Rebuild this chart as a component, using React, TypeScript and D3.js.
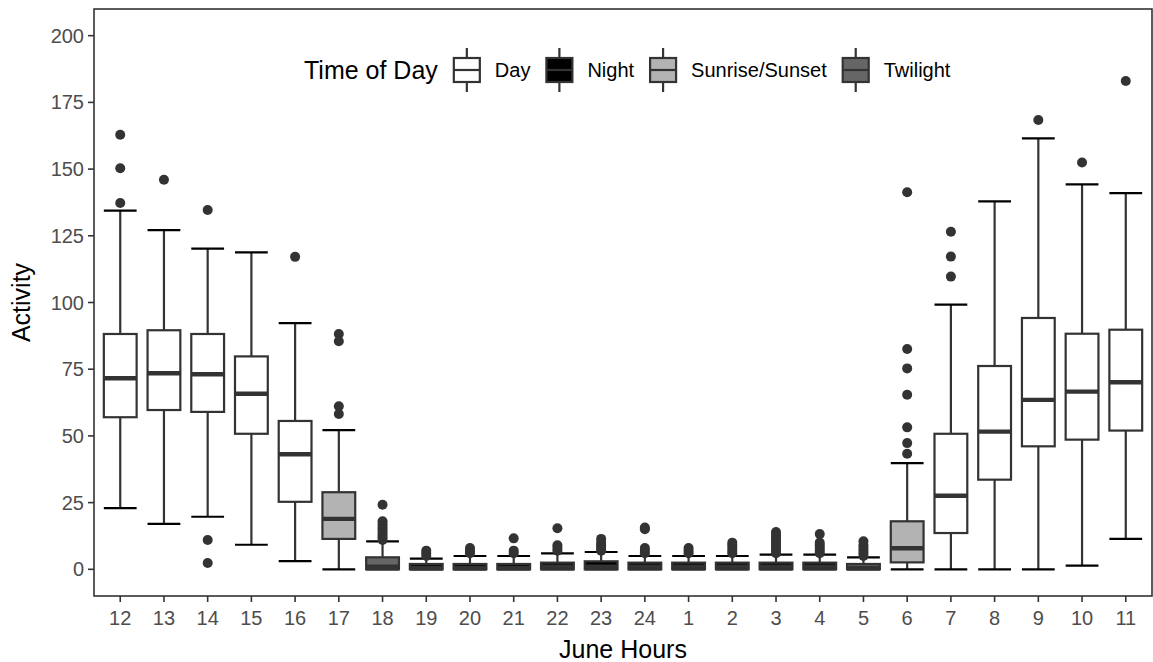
import React from "react";
import * as d3 from "d3";

const hours = ["12","13","14","15","16","17","18","19","20","21","22","23","24","1","2","3","4","5","6","7","8","9","10","11"];
const timeOfDay = [
  "Day","Day","Day","Day","Day","Sunrise/Sunset","Twilight",
  "Night","Night","Night","Night","Night","Night","Night","Night","Night","Night",
  "Twilight","Sunrise/Sunset","Day","Day","Day","Day","Day"
];
const lowerWhisker = [22.9,17,19.7,9.2,3.1,0,0, 0,0,0,0,0,0,0,0,0,0, 0,0,0,0,0,1.4,11.4];
const q1 =           [57,59.7,59,50.8,25.3,11.4,0, 0,0,0,0,0,0,0,0,0,0, 0,2.6,13.6,33.6,46.1,48.6,52];
const median =       [71.6,73.5,73.1,65.8,43.1,18.9,1, 0.5,0.5,0.5,1,1,1,1,1,1,1, 0.5,7.9,27.6,51.6,63.5,66.6,70.1];
const q3 =           [88.2,89.6,88.2,79.8,55.6,28.9,4.5, 2,2,2,2.5,3,2.5,2.5,2.5,2.5,2.5, 2,18,50.8,76.2,94.2,88.3,89.8];
const upperWhisker = [134.4,127.1,120.2,118.8,92.3,52.2,10.5, 4,5,5,6,6.5,5,5,5,5.5,5.5, 4.5,39.8,99.2,137.9,161.5,144.3,141];
const outliers = [
  [137.3,150.3,162.9],
  [146],
  [134.7,11,2.4],
  [],
  [117.1],
  [88.2,85.5,61.1,58.2],
  [11,12,13,14,15,16,17,18,24.2],
  [5,6,7],
  [6,7,8],
  [6,7,11.6],
  [7,8,9,15.4],
  [7,8,9,10,11.4],
  [6,7,8,15,15.7],
  [6,7,8],
  [6,7,8,9,10],
  [6,7,8,9,10,11,12,13,14],
  [6,7,8,9,10,13.2],
  [5,6,7,8,9,10.5],
  [43.3,47.3,53.2,65.4,75.3,82.6,141.3],
  [109.7,117.2,126.5],
  [],
  [168.4],
  [152.5],
  [183]
];
const legendLevels = ["Day","Night","Sunrise/Sunset","Twilight"];
const legendFills = ["#ffffff","#000000","#b3b3b3","#666666"];
const yTicks = [0,25,50,75,100,125,150,175,200];

const W = 1153, H = 662;
const panel = { left: 94, right: 1152, top: 9, bottom: 596 };
const FONT = "'Liberation Sans', Arial, Helvetica, sans-serif";
const DARK = "#333333";
const LW = 2.2;

function measure(text: string, size: number): number {
  const c = document.createElement("canvas").getContext("2d");
  if (!c) return text.length * size * 0.55;
  c.font = `${size}px ${FONT}`;
  return c.measureText(text).width;
}

export default function App() {
  const fillScale = d3.scaleOrdinal<string, string>().domain(legendLevels).range(legendFills);
  const x = d3.scalePoint<string>().domain(hours).range([panel.left, panel.right]).padding(0.6);
  const y = d3.scaleLinear().domain([-10, 210]).range([panel.bottom, panel.top]);
  const step = x.step();
  const bw = step * 0.75;

  // legend layout
  const titleSize = 25, textSize = 20;
  const legendTitle = "Time of Day";
  const keyW = 34, keyH = 44, boxW = 26, boxH = 24;
  const legendY = 70;
  let cursor = 304;
  const titleX = cursor;
  cursor += measure(legendTitle, titleSize) + 12;
  const items = legendLevels.map((lv) => {
    const kx = cursor;
    cursor += keyW + 11;
    const tx = cursor;
    cursor += measure(lv, textSize) + 12;
    return { lv, kx, tx };
  });

  return (
    <svg width={W} height={H} style={{ position: "absolute", left: 0, top: 0, display: "block", background: "#fff" }}
      fontFamily={FONT}>
      <rect x={0} y={0} width={W} height={H} fill="#fff" />
      {hours.map((h, i) => {
        const cx = x(h)!;
        const f = fillScale(timeOfDay[i]);
        return (
          <g key={h}>
            <line x1={cx} x2={cx} y1={y(upperWhisker[i])} y2={y(q3[i])} stroke={DARK} strokeWidth={LW} />
            <line x1={cx} x2={cx} y1={y(q1[i])} y2={y(lowerWhisker[i])} stroke={DARK} strokeWidth={LW} />
            <line x1={cx - bw / 2} x2={cx + bw / 2} y1={y(upperWhisker[i])} y2={y(upperWhisker[i])} stroke="#000" strokeWidth={LW} />
            <line x1={cx - bw / 2} x2={cx + bw / 2} y1={y(lowerWhisker[i])} y2={y(lowerWhisker[i])} stroke="#000" strokeWidth={LW} />
            <rect x={cx - bw / 2} y={y(q3[i])} width={bw} height={y(q1[i]) - y(q3[i])} fill={f} stroke={DARK} strokeWidth={LW} />
            <line x1={cx - bw / 2} x2={cx + bw / 2} y1={y(median[i])} y2={y(median[i])} stroke={DARK} strokeWidth={LW * 2} />
            {outliers[i].map((v, j) => (
              <circle key={j} cx={cx} cy={y(v)} r={5} fill={DARK} />
            ))}
          </g>
        );
      })}
      <rect x={panel.left} y={panel.top} width={panel.right - panel.left} height={panel.bottom - panel.top}
        fill="none" stroke={DARK} strokeWidth={1.6} />
      {yTicks.map((t) => (
        <g key={t}>
          <line x1={panel.left - 6} x2={panel.left} y1={y(t)} y2={y(t)} stroke={DARK} strokeWidth={1.6} />
          <text x={panel.left - 10} y={y(t)} dy="0.35em" textAnchor="end" fontSize={20} fill="#4d4d4d">{t}</text>
        </g>
      ))}
      {hours.map((h) => (
        <g key={h}>
          <line x1={x(h)} x2={x(h)} y1={panel.bottom} y2={panel.bottom + 6} stroke={DARK} strokeWidth={1.6} />
          <text x={x(h)} y={panel.bottom + 22} dy="0.35em" textAnchor="middle" fontSize={20} fill="#4d4d4d">{h}</text>
        </g>
      ))}
      <text x={(panel.left + panel.right) / 2} y={649} dy="0.35em" textAnchor="middle" fontSize={25} fill="#000">June Hours</text>
      <text transform={`translate(21,${(panel.top + panel.bottom) / 2}) rotate(-90)`} dy="0.35em" textAnchor="middle" fontSize={25} fill="#000">Activity</text>
      <text x={titleX} y={legendY} dy="0.35em" fontSize={titleSize} fill="#000">{legendTitle}</text>
      {items.map(({ lv, kx, tx }) => {
        const kcx = kx + keyW / 2;
        return (
          <g key={lv}>
            <line x1={kcx} x2={kcx} y1={legendY - keyH / 2} y2={legendY + keyH / 2} stroke={DARK} strokeWidth={LW} />
            <rect x={kcx - boxW / 2} y={legendY - boxH / 2} width={boxW} height={boxH} fill={fillScale(lv)} stroke={DARK} strokeWidth={LW} />
            <line x1={kcx - boxW / 2} x2={kcx + boxW / 2} y1={legendY} y2={legendY} stroke={DARK} strokeWidth={LW} />
            <text x={tx} y={legendY} dy="0.35em" fontSize={textSize} fill="#000">{lv}</text>
          </g>
        );
      })}
    </svg>
  );
}
